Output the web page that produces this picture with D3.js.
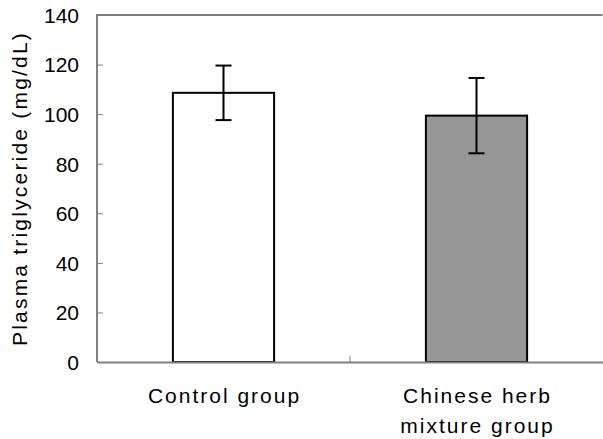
<!DOCTYPE html>
<html><head><meta charset="utf-8">
<script src="https://cdn.jsdelivr.net/npm/d3@7"></script>
<style>body{margin:0;background:#fff}svg{display:block}text{font-family:"Liberation Sans",Arial,sans-serif;fill:#000}</style>
</head><body>
<script>
const categories = [["Control group"], ["Chinese herb", "mixture group"]];
const catKeys = ["control", "herb"];
const means = [108.6, 99.4];
const errors = [11.0, 15.2];
const fills = ["#ffffff", "#969696"];
const yTicks = [0, 20, 40, 60, 80, 100, 120, 140];

const W = 603, H = 439;
const m = {l: 97, r: 0, t: 15, b: 77};
const svg = d3.select("body").append("svg").attr("width", W).attr("height", H);

const x = d3.scaleBand().domain(catKeys).range([m.l, W - m.r]).paddingInner(0.6).paddingOuter(0.3);
const xOuter = d3.scaleBand().domain(catKeys).range([m.l, W - m.r]);
const y = d3.scaleLinear().domain([0, 140]).range([H - m.b, m.t]);

// frame
svg.append("path")
  .attr("d", `M${m.l},${y(0)}V${y(140)}H${W - m.r - 0.5}`)
  .attr("fill", "none").attr("stroke", "#808080").attr("stroke-width", 2);

// y axis
const yAxis = svg.append("g").attr("transform", `translate(${m.l},0)`)
  .call(d3.axisRight(y).tickValues(yTicks).tickSize(6).tickFormat(d3.format("d")));
yAxis.select(".domain").remove();
yAxis.selectAll(".tick line").attr("stroke", "#808080").attr("stroke-width", 1);
yAxis.selectAll(".tick text").attr("x", -18).attr("text-anchor", "end")
  .style("font-size", "21px").attr("dy", "0.35em").attr("fill", "#000");

// bars
svg.selectAll("rect.bar").data(means).join("rect")
  .attr("x", (d, i) => x(catKeys[i]))
  .attr("width", x.bandwidth())
  .attr("y", d => y(d))
  .attr("height", d => y(0) - y(d))
  .attr("fill", (d, i) => fills[i])
  .attr("stroke", "#000").attr("stroke-width", 2);

// x axis
const xAxis = svg.append("g").attr("transform", `translate(0,${y(0)})`)
  .call(d3.axisTop(xOuter).tickSize(0).tickFormat(""));
xAxis.select(".domain").attr("stroke", "#808080").attr("stroke-width", 2);
xAxis.selectAll(".tick").remove();
// category separator ticks
svg.append("g").selectAll("line").data(catKeys.slice(1)).join("line")
  .attr("x1", d => xOuter(d)).attr("x2", d => xOuter(d))
  .attr("y1", y(0)).attr("y2", y(0) - 6)
  .attr("stroke", "#808080").attr("stroke-width", 1);

// error bars
const eb = svg.append("g").attr("stroke", "#000").attr("stroke-width", 2);
means.forEach((mv, i) => {
  const cx = x(catKeys[i]) + x.bandwidth() / 2;
  eb.append("line").attr("x1", cx).attr("x2", cx).attr("y1", y(mv + errors[i])).attr("y2", y(mv - errors[i]));
  [mv + errors[i], mv - errors[i]].forEach(v => {
    eb.append("line").attr("x1", cx - 8).attr("x2", cx + 8).attr("y1", y(v)).attr("y2", y(v));
  });
});

// x labels
categories.forEach((lines, i) => {
  const cx = xOuter(catKeys[i]) + xOuter.bandwidth() / 2;
  lines.forEach((t, j) => {
    svg.append("text").attr("x", cx + 1).attr("y", 403 + j * 30)
      .attr("text-anchor", "middle").style("font-size", "21px").style("letter-spacing", "2px").text(t);
  });
});

// y title
svg.append("text").attr("transform", `translate(27,${(y(0) + y(140)) / 2}) rotate(-90)`)
  .attr("text-anchor", "middle").style("font-size", "21px").style("letter-spacing", "2.2px")
  .text("Plasma triglyceride (mg/dL)");
</script>
</body></html>
